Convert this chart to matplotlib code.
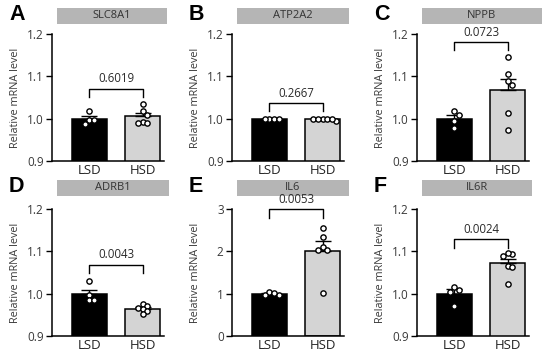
import matplotlib.pyplot as plt
from matplotlib.patches import Rectangle
import numpy as np

plt.rcParams['font.family'] = ['Open Sans', 'DejaVu Sans']

genes = ["SLC8A1", "ATP2A2", "NPPB", "ADRB1", "IL6", "IL6R"]
letters = ["A", "B", "C", "D", "E", "F"]
groups = ["LSD", "HSD"]
p_values = ["0.6019", "0.2667", "0.0723", "0.0043", "0.0053", "0.0024"]

lsd_values = [
    [1.017, 0.998, 0.998, 0.988],
    [1.000, 1.000, 0.999, 1.000],
    [1.009, 1.018, 0.994, 0.978],
    [1.030, 0.996, 0.985, 0.985],
    [1.05, 0.96, 0.97, 1.02],
    [1.009, 1.015, 1.005, 0.972],
]
hsd_values = [
    [1.034, 1.018, 1.008, 0.992, 0.990, 0.990],
    [1.000, 1.000, 0.999, 1.000, 0.994, 1.000],
    [1.146, 1.106, 1.089, 1.080, 1.014, 0.974],
    [0.976, 0.970, 0.966, 0.964, 0.958, 0.952],
    [2.56, 2.34, 2.11, 2.04, 2.04, 1.02],
    [1.094, 1.096, 1.089, 1.066, 1.062, 1.022],
]
y_limits = [(0.9, 1.2), (0.9, 1.2), (0.9, 1.2), (0.9, 1.2), (0, 3), (0.9, 1.2)]
y_ticks = [[0.9, 1.0, 1.1, 1.2]] * 4 + [[0, 1, 2, 3]] + [[0.9, 1.0, 1.1, 1.2]]
y_ticklabels = [["0.9", "1.0", "1.1", "1.2"]] * 4 + [["0", "1", "2", "3"]] + [["0.9", "1.0", "1.1", "1.2"]]
bracket_y = [1.071, 1.037, 1.181, 1.068, 2.99, 1.128]

# layout in pixels (figure 550 x 353)
W, H = 550, 353
col_left = [52, 232, 417]
row_top = [34, 209]
ax_w, ax_h = 112, 127
box_width = [110, 112, 120, 112, 112, 110]
box_top = [8, 180]
box_h = 16


def swarm_offsets(vals, ax, diam=4.6):
    # simple beeswarm: spread overlapping points sideways (pixel space)
    pts = ax.transData.transform(np.column_stack([np.zeros(len(vals)), vals]))
    ypix = pts[:, 1]
    xscale = ax.transData.transform((1, 0))[0] - ax.transData.transform((0, 0))[0]
    order = np.argsort(-np.array(vals))
    placed = []
    offs = np.zeros(len(vals))
    for i in order:
        for k in [0, 1, -1, 2, -2, 3, -3]:
            cand = k * diam
            ok = True
            for (px, py) in placed:
                if (px - cand) ** 2 + (py - ypix[i]) ** 2 < diam ** 2:
                    ok = False
                    break
            if ok:
                break
        placed.append((cand, ypix[i]))
        offs[i] = cand / xscale
    return offs


fig = plt.figure(figsize=(W / 100, H / 100), dpi=100)

for i in range(6):
    r, c = divmod(i, 3)
    left = col_left[c]
    top = row_top[r]
    ax = fig.add_axes([left / W, (H - top - ax_h) / H, ax_w / W, ax_h / H])
    ax.set_xlim(-0.7, 1.4)
    ax.set_ylim(*y_limits[i])

    data = [lsd_values[i], hsd_values[i]]
    means = [np.mean(d) for d in data]
    sems = [np.std(d, ddof=1) / np.sqrt(len(d)) for d in data]
    ax.bar([0, 1], means, width=0.66, color=["black", "#d4d4d4"],
           edgecolor="black", linewidth=1.1, zorder=2)
    ax.errorbar([0, 1], means, yerr=[[0, 0], sems], fmt="none", ecolor="black",
                elinewidth=1.0, capsize=5.5, capthick=1.0, zorder=3)
    for j, d in enumerate(data):
        offs = swarm_offsets(d, ax)
        ax.plot(j + offs, d, "o", ms=3.8, mfc="white", mec="black", mew=1.0,
                zorder=4, clip_on=False)

    # significance bracket
    yr = y_limits[i][1] - y_limits[i][0]
    yb = bracket_y[i]
    ax.plot([0, 0, 1, 1], [yb - 0.065 * yr, yb, yb, yb - 0.065 * yr],
            color="black", lw=1.0, clip_on=False)
    ax.annotate(p_values[i], (0.5, yb), xytext=(0, 2.5), textcoords="offset points",
                ha="center", va="bottom", fontsize=8.3, color="#2a2a2a",
                annotation_clip=False)

    ax.set_yticks(y_ticks[i])
    ax.set_yticklabels(y_ticklabels[i])
    ax.set_xticks([0, 1])
    ax.set_xticklabels(groups)
    ax.tick_params(axis="y", length=4, width=1.0, labelsize=8.5, labelcolor="#3a3a3a", pad=2)
    ax.tick_params(axis="x", length=0, labelsize=9.5, labelcolor="#222222", pad=2)
    for s in ["top", "right"]:
        ax.spines[s].set_visible(False)
    for s in ["left", "bottom"]:
        ax.spines[s].set_linewidth(1.1)
    ax.set_ylabel("Relative mRNA level", fontsize=7.8, color="#3a3a3a")
    ax.yaxis.set_label_coords(-31 / ax_w, 0.5)

    # gene name box
    bx = left + 5
    rect = Rectangle((bx / W, (H - box_top[r] - box_h) / H), box_width[i] / W, box_h / H,
                     transform=fig.transFigure, facecolor="#b5b5b5", edgecolor="none",
                     zorder=-1)
    fig.patches.append(rect)
    fig.text((bx + box_width[i] / 2) / W, (H - box_top[r] - box_h / 2) / H, genes[i],
             ha="center", va="center", fontsize=8, color="#333333")

    # panel letter
    fig.text((left - 43) / W, (H - box_top[r] - 7) / H, letters[i], ha="left", va="center",
             fontsize=15.5, fontweight="bold", family="Liberation Sans")

fig.savefig("out.png", dpi=100)
